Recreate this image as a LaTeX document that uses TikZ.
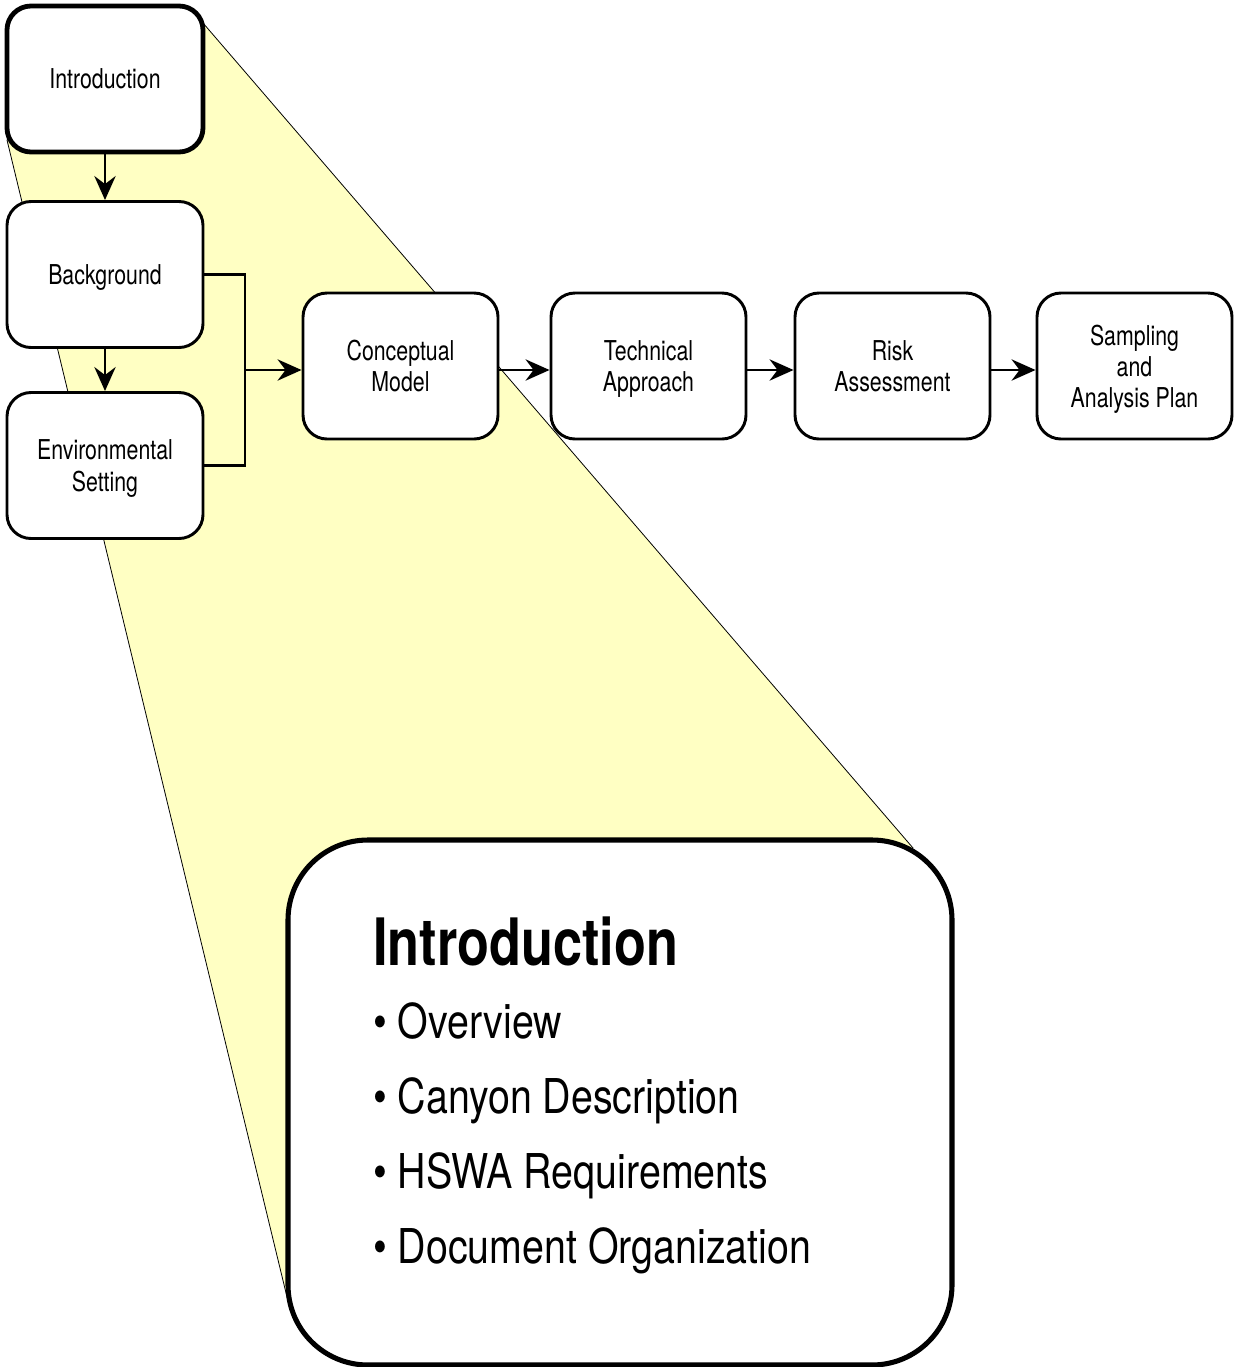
\documentclass[tikz,border=0pt]{standalone}
\usepackage{fontspec}
\setmainfont{TeX Gyre Heros}[FakeStretch=0.78]
\newfontfamily\bulletfont{TeX Gyre Heros}[FakeStretch=0.82]
\newfontfamily\titlefont{TeX Gyre Heros}[FakeStretch=0.80]
\usetikzlibrary{arrows.meta}
\definecolor{zoomyellow}{RGB}{255,255,195}
\tikzset{
  box/.style={draw=black, fill=white, line width=2.2pt, rounded corners=18pt,
    minimum width=147pt, minimum height=109.5pt, inner sep=0pt, align=center,
    text depth=0pt, font=\fontsize{20.5}{23.3}\selectfont},
  introbox/.style={box, line width=3.6pt},
  bigbox/.style={draw=black, fill=white, line width=3.8pt, rounded corners=60pt,
    minimum width=498pt, minimum height=393.75pt, inner sep=0pt},
  arr/.style={line width=1.6pt, -{Stealth[length=18pt,width=16pt,inset=6pt]}},
  conn/.style={line width=1.6pt},
  bigtitle/.style={anchor=base west, inner sep=0pt, font=\titlefont\fontsize{49}{52}\selectfont\bfseries},
  bullet/.style={anchor=base west, inner sep=0pt, font=\bulletfont\fontsize{36}{40}\selectfont},
}
\begin{document}
\begin{tikzpicture}[x=0.75pt,y=-0.75pt]
\useasboundingbox (0,0) rectangle (1234,1367);
% zoom wedge
\draw[fill=zoomyellow, line width=0.6pt] (203,23) -- (913,848) -- (287,1297) -- (7,140) -- cycle;
% boxes
\node[introbox] (intro) at (105,79) {Introduction};
\node[box] (bg) at (105,274.5) {Background};
\node[box] (env) at (105,465.5) {Environmental\\Setting};
\node[box, minimum width=146.25pt] (cm) at (400.5,366) {Conceptual\\Model};
\node[box, minimum width=146.25pt] (ta) at (648.5,366) {Technical\\Approach};
\node[box, minimum width=146.25pt] (ra) at (892.5,366) {Risk\\Assessment};
\node[box, minimum width=146.25pt] (sap) at (1134.5,366) {Sampling\\and\\Analysis Plan};
% connectors
\draw[arr] (intro) -- (bg);
\draw[arr] (bg) -- (env);
\coordinate (jt) at (245,274.5);
\coordinate (jb) at (245,465.5);
\coordinate (j) at (245,370);
\draw[conn] (bg.east) -- (jt) -- (jb) -- (env.east);
\draw[arr] (j) -- (j -| cm.west);
\draw[arr] (cm.east |- j) -- (ta.west |- j);
\draw[arr] (ta.east |- j) -- (ra.west |- j);
\draw[arr] (ra.east |- j) -- (sap.west |- j);
% detail box
\node[bigbox] (big) at (620,1102.5) {};
\node[bigtitle] (t0) at (373,965) {Introduction};
\node[bullet] (t1) at (373,1038) {• Overview};
\node[bullet] (t2) at (373,1113) {• Canyon Description};
\node[bullet] (t3) at (373,1188) {• HSWA Requirements};
\node[bullet] (t4) at (373,1263) {• Document Organization};
\end{tikzpicture}
\end{document}
